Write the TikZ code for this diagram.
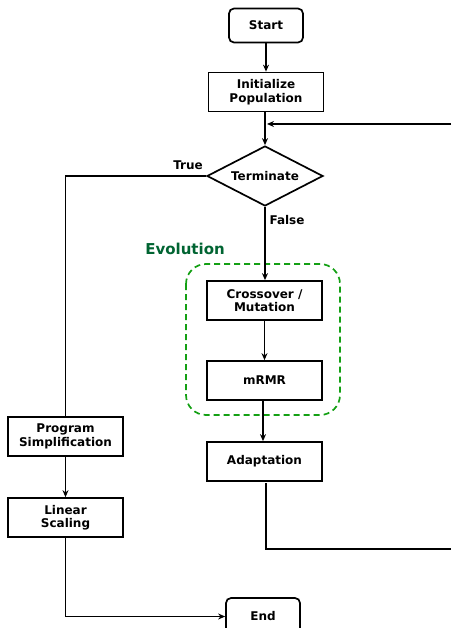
\documentclass[tikz,border=0pt]{standalone}
\usepackage{fontspec}
\setmainfont{DejaVu Sans}
\usetikzlibrary{shapes.geometric,arrows.meta}
\definecolor{evotext}{RGB}{0,100,50}
\definecolor{evodash}{RGB}{20,160,20}
\tikzset{
  box/.style={draw=black, line width=1.7pt, fill=white, minimum width=115pt, minimum height=39pt, inner sep=1pt, align=center, font=\fontsize{12}{13.5}\selectfont\bfseries},
  term/.style={box, rounded corners=5pt, minimum width=74pt, minimum height=34pt},
  dec/.style={draw=black, line width=1.7pt, shape=diamond, aspect=1.93, minimum width=116pt, minimum height=60pt, inner sep=0pt, font=\fontsize{12}{13.5}\selectfont\bfseries},
  conn/.style={draw=black, line width=1.2pt},
  arr/.style={conn, -{Stealth[length=7pt,width=6pt]}},
  lbl/.style={font=\fontsize{12}{13.5}\selectfont\bfseries, inner sep=0pt}
}
\begin{document}
\begin{tikzpicture}[x=1pt,y=-1pt]
\useasboundingbox (0,0) rectangle (451,628);
\clip (0,0) rectangle (451,628);
\fill[white] (0,0) rectangle (451,628);
% evolution group
\draw[evodash, line width=1.7pt, dash pattern=on 6pt off 4pt, rounded corners=20pt] (186,264) rectangle (340,415);
\node[font=\fontsize{15}{17}\selectfont\bfseries, text=evotext, inner sep=0pt] (evo) at (185,249) {Evolution};
% nodes
\node[term] (start) at (266,25.5) {Start};
\node[box] (init) at (266,92) {Initialize\\Population};
\node[dec] (termi) at (265,176) {Terminate};
\node[box] (cm) at (264.5,300.5) {Crossover /\\Mutation};
\node[box] (mrmr) at (264.5,380.5) {mRMR};
\node[box] (adapt) at (264.5,461.5) {Adaptation};
\node[box] (ps) at (65.5,436.5) {Program\\Simplification};
\node[box] (ls) at (65.5,517.5) {Linear\\Scaling};
\node[term, minimum height=37pt] (end) at (263,616.5) {End};
\node[lbl] (true) at (188,165) {True};
\node[lbl] (false) at (287,220) {False};
% coordinates
\coordinate (loopin) at (451,124);
\coordinate (loopjoin) at (267,124);
\coordinate (loopout) at (451,549);
\coordinate (adapttop) at (266,483);
\coordinate (adaptbend) at (266,549);
% connectors
\draw[arr] (start) -- (init);
\draw[arr] (init.south -| termi.north) -- (termi.north);
\draw[arr] (loopin) -- (loopjoin);
\draw[conn] (termi.west) -| (ps.north);
\draw[arr] (termi.south) -- (termi.south |- cm.north);
\draw[arr] (cm) -- (mrmr);
\draw[arr] (mrmr.south -| 263,0) -- (adapt.north -| 263,0);
\draw[conn] (adapttop) -- (adaptbend) -- (loopout);
\draw[arr] (ps) -- (ls);
\draw[arr] (ls.south) |- (end.west);
\end{tikzpicture}
\end{document}
